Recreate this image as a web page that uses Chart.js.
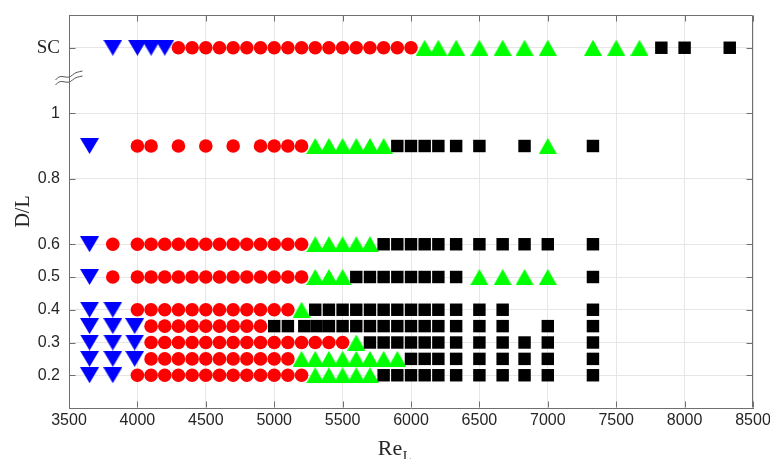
<!DOCTYPE html>
<html>
<head>
<meta charset="utf-8">
<script src="https://cdn.jsdelivr.net/npm/chart.js@4.4.1/dist/chart.umd.min.js"></script>
<style>
  html, body { margin: 0; padding: 0; background: #ffffff; }
  #chart { display: block; }
</style>
</head>
<body>
<canvas id="chart" width="770" height="459"></canvas>
<script>
// rows of D/L (1.2 stands for the "SC" row)
const rowDL = [0.2, 0.25, 0.3, 0.35, 0.4, 0.5, 0.6, 0.9, 1.2];

// Re_L values per row, one list per regime
const blueRe = [
  [3650, 3820],
  [3650, 3820, 3980],
  [3650, 3820, 3980],
  [3650, 3820, 3980],
  [3650, 3820],
  [3650],
  [3650],
  [3650],
  [3820, 4000, 4100, 4200]
];
const redRe = [
  [4000, 4100, 4200, 4300, 4400, 4500, 4600, 4700, 4800, 4900, 5000, 5100, 5200],
  [4100, 4200, 4300, 4400, 4500, 4600, 4700, 4800, 4900, 5000, 5100],
  [4100, 4200, 4300, 4400, 4500, 4600, 4700, 4800, 4900, 5000, 5100, 5200, 5300, 5400, 5500],
  [4100, 4200, 4300, 4400, 4500, 4600, 4700, 4800, 4900],
  [4000, 4100, 4200, 4300, 4400, 4500, 4600, 4700, 4800, 4900, 5000, 5100],
  [3820, 4000, 4100, 4200, 4300, 4400, 4500, 4600, 4700, 4800, 4900, 5000, 5100, 5200],
  [3820, 4000, 4100, 4200, 4300, 4400, 4500, 4600, 4700, 4800, 4900, 5000, 5100, 5200],
  [4000, 4100, 4300, 4500, 4700, 4900, 5000, 5100, 5200],
  [4300, 4400, 4500, 4600, 4700, 4800, 4900, 5000, 5100, 5200, 5300, 5400, 5500, 5600, 5700, 5800, 5900, 6000]
];
const greenRe = [
  [5300, 5400, 5500, 5600, 5700],
  [5200, 5300, 5400, 5500, 5600, 5700, 5800, 5900],
  [5600],
  [],
  [5200],
  [5300, 5400, 5500, 6500, 6670, 6830, 7000],
  [5300, 5400, 5500, 5600, 5700],
  [5300, 5400, 5500, 5600, 5700, 5800, 7000],
  [6100, 6200, 6330, 6500, 6670, 6830, 7000, 7330, 7500, 7670]
];
const blackRe = [
  [5800, 5900, 6000, 6100, 6200, 6330, 6500, 6670, 6830, 7000, 7330],
  [6000, 6100, 6200, 6330, 6500, 6670, 6830, 7000, 7330],
  [5700, 5800, 5900, 6000, 6100, 6200, 6330, 6500, 6670, 6830, 7000, 7330],
  [5000, 5100, 5220, 5310, 5400, 5500, 5600, 5700, 5800, 5900, 6000, 6100, 6200, 6330, 6500, 6670, 7000, 7330],
  [5300, 5400, 5500, 5600, 5700, 5800, 5900, 6000, 6100, 6200, 6330, 6500, 6670, 7330],
  [5600, 5700, 5800, 5900, 6000, 6100, 6200, 6330, 7330],
  [5800, 5900, 6000, 6100, 6200, 6330, 6500, 6670, 6830, 7000, 7330],
  [5900, 6000, 6100, 6200, 6330, 6500, 6830, 7330],
  [7830, 8000, 8330]
];

const yTickValues = [0.2, 0.3, 0.4, 0.5, 0.6, 0.8, 1, 1.2];
const yTickLabels = ["0.2", "0.3", "0.4", "0.5", "0.6", "0.8", "1", "SC"];

const axisGray = "#6f6f6f";
const gridGray = "#e6e6e6";
const textDark = "#262626";
const sansTick = { family: "'Liberation Sans Narrow', 'Liberation Sans', Arial, sans-serif", size: 16 };
const serifTick = { family: "'Liberation Serif', 'DejaVu Serif', serif", size: 19 };

function toPoints(rows) {
  const pts = [];
  rows.forEach((list, i) => {
    list.forEach((re) => pts.push({ x: re, y: rowDL[i] }));
  });
  return pts;
}

// triangle marker drawn into a small canvas so its box is centred on the point
function makeTriangle(color, w, h, down) {
  const c = document.createElement("canvas");
  c.width = w;
  c.height = h;
  const g = c.getContext("2d");
  g.fillStyle = color;
  g.beginPath();
  if (down) {
    g.moveTo(0, 0);
    g.lineTo(w, 0);
    g.lineTo(w / 2, h);
  } else {
    g.moveTo(w / 2, 0);
    g.lineTo(w, h);
    g.lineTo(0, h);
  }
  g.closePath();
  g.fill();
  return c;
}

function noAutoPadding(s) {
  s.paddingLeft = 0;
  s.paddingRight = 0;
  s.paddingTop = 0;
  s.paddingBottom = 0;
}

const frameExtras = {
  id: "frameExtras",
  afterDraw(chart) {
    const ctx = chart.ctx;
    const a = chart.chartArea;
    const xs = chart.scales.x;
    const ys = chart.scales.y;
    const L = Math.round(a.left) + 0.5;
    const R = Math.round(a.right) - 0.5;
    const T = Math.round(a.top) + 0.5;
    const B = Math.round(a.bottom) - 0.5;
    const tick = 6;

    ctx.save();
    ctx.strokeStyle = axisGray;
    ctx.lineWidth = 1;
    ctx.beginPath();
    ctx.moveTo(L, T);
    ctx.lineTo(R, T);
    ctx.lineTo(R, B);
    xs.ticks.forEach((t) => {
      const px = Math.round(xs.getPixelForValue(t.value)) + 0.5;
      ctx.moveTo(px, B);
      ctx.lineTo(px, B - tick);
      ctx.moveTo(px, T);
      ctx.lineTo(px, T + tick);
    });
    ys.ticks.forEach((t) => {
      const py = Math.round(ys.getPixelForValue(t.value)) + 0.5;
      ctx.moveTo(L, py);
      ctx.lineTo(L + tick, py);
      ctx.moveTo(R, py);
      ctx.lineTo(R - tick, py);
    });
    ctx.stroke();

    // axis break mark between 1 and SC
    const yb = ys.getPixelForValue(1.1) - 2;
    ctx.strokeStyle = "#555555";
    ctx.lineWidth = 1;
    [-2.5, 2.5].forEach((off) => {
      ctx.beginPath();
      ctx.moveTo(L - 14, yb + off + 4);
      ctx.bezierCurveTo(L - 8, yb + off - 4, L - 3, yb + off + 5, L + 3, yb + off - 1);
      ctx.bezierCurveTo(L + 6, yb + off - 4, L + 9, yb + off - 4, L + 13, yb + off - 5);
      ctx.stroke();
    });

    // x-axis title with subscript
    ctx.fillStyle = textDark;
    ctx.textBaseline = "alphabetic";
    ctx.textAlign = "left";
    ctx.font = "22px 'Liberation Serif', serif";
    const main = "Re";
    const mw = ctx.measureText(main).width;
    const cx = (a.left + a.right) / 2 - 17;
    const x0 = cx - mw / 2 - 4;
    ctx.fillText(main, x0, 455);
    ctx.font = "14px 'Liberation Serif', serif";
    ctx.fillText("L", x0 + mw + 0.5, 461);
    ctx.restore();
  }
};

new Chart(document.getElementById("chart").getContext("2d"), {
  type: "scatter",
  data: {
    datasets: [
      {
        label: "blue",
        data: toPoints(blueRe),
        pointStyle: makeTriangle("#0000ff", 19, 16, true),
        pointRadius: 8,
        order: 4
      },
      {
        label: "red",
        data: toPoints(redRe),
        pointStyle: "circle",
        pointRadius: 6.8,
        pointBorderWidth: 0,
        backgroundColor: "#ff0000",
        borderColor: "#ff0000",
        order: 3
      },
      {
        label: "green",
        data: toPoints(greenRe),
        pointStyle: makeTriangle("#00ff00", 18, 16, false),
        pointRadius: 8,
        order: 2
      },
      {
        label: "black",
        data: toPoints(blackRe),
        pointStyle: "rect",
        pointRadius: 8.8,
        pointBorderWidth: 0,
        backgroundColor: "#000000",
        borderColor: "#000000",
        order: 1
      }
    ]
  },
  options: {
    responsive: false,
    animation: false,
    events: [],
    layout: { padding: { top: 15, right: 17, left: 0, bottom: 0 } },
    plugins: {
      legend: { display: false },
      tooltip: { enabled: false }
    },
    scales: {
      x: {
        type: "linear",
        min: 3500,
        max: 8500,
        grid: { color: gridGray, drawTicks: false },
        border: { color: axisGray },
        ticks: {
          stepSize: 500,
          padding: 3,
          color: textDark,
          font: sansTick,
          maxRotation: 0,
          callback: (v) => String(v)
        },
        afterFit: (s) => { s.height = 51; noAutoPadding(s); }
      },
      y: {
        type: "linear",
        min: 0.1,
        max: 1.3,
        grid: { color: gridGray, drawTicks: false },
        border: { color: axisGray },
        afterBuildTicks: (s) => { s.ticks = yTickValues.map((v) => ({ value: v })); },
        ticks: {
          padding: 9,
          color: textDark,
          font: (c) => (c.tick && c.tick.value === 1.2 ? serifTick : sansTick),
          callback: (v) => yTickLabels[yTickValues.indexOf(v)]
        },
        title: {
          display: true,
          text: "D/L",
          color: textDark,
          font: { family: "'Liberation Serif', serif", size: 20 },
          padding: { top: 12, bottom: 0 }
        },
        afterFit: (s) => { s.width = 69; noAutoPadding(s); }
      }
    }
  },
  plugins: [frameExtras]
});
</script>
</body>
</html>
